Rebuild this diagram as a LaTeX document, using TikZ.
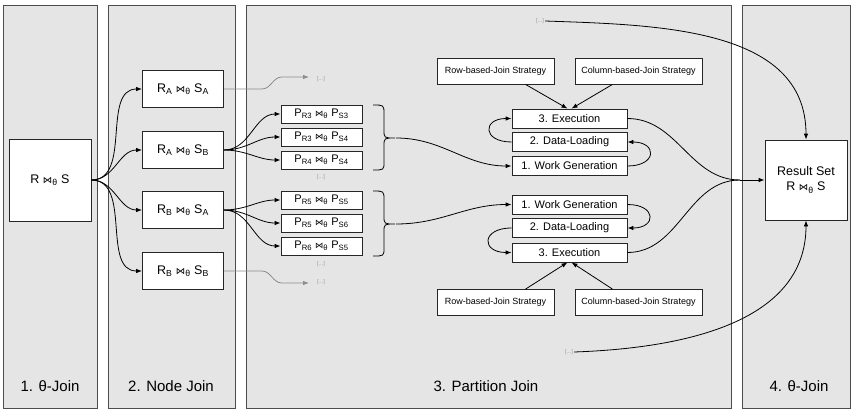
\documentclass[tikz,border=0pt]{standalone}
\usepackage{fontspec}
\setmainfont{Liberation Sans}
\newfontfamily\symfont{DejaVu Sans}
\usetikzlibrary{arrows.meta}
\newcommand\bt{\scalebox{0.75}{\symfont ⋈}}
\newcommand\sbs[1]{\textsubscript{#1}}
\begin{document}
\begin{tikzpicture}[x=1pt,y=-1pt,
  panel/.style={draw=black!70, fill=black!10, line width=0.9pt},
  box/.style={draw=black!85, fill=white, line width=0.8pt, inner sep=0pt, align=center},
  pbox/.style={box, minimum width=81pt, minimum height=18pt, font=\fontsize{11}{12}\selectfont},
  nbox/.style={box, minimum width=81pt, minimum height=37pt, font=\fontsize{12.5}{14}\selectfont},
  sbox/.style={box, minimum width=115pt, minimum height=19pt, font=\fontsize{11}{12}\selectfont},
  strat/.style={box, minimum height=26pt, font=\fontsize{9}{10}\selectfont},
  arr/.style={-{Latex[length=6pt,width=4.5pt]}, line width=0.8pt},
  garr/.style={arr, draw=black!45, color=black!45},
  dots/.style={text=black!40, font=\fontsize{5.5}{6}\selectfont, inner sep=1pt},
  plabel/.style={font=\fontsize{15}{16}\selectfont}]
\useasboundingbox (0,0) rectangle (853,410);
% panels
\draw[panel] (3,5) rectangle (97,408);
\draw[panel] (108,5) rectangle (235,408);
\draw[panel] (246,5) rectangle (731,408);
\draw[panel] (742,5) rectangle (850,408);
\node[plabel] (l1) at (50,386) {1. θ-Join};
\node[plabel] (l2) at (171,386) {2. Node Join};
\node[plabel, anchor=west] (l3) at (430,386) {3. Partition Join};
\node[plabel] (l4) at (799,386) {4. θ-Join};
% stage 1
\node[box, minimum width=82pt, minimum height=82pt, font=\fontsize{12.5}{14}\selectfont] (rs) at (50,180) {R \bt\sbs{θ} S};
% stage 2
\node[nbox] (aa) at (183,89) {R\sbs{A} \bt\sbs{θ} S\sbs{A}};
\node[nbox] (ab) at (183,150) {R\sbs{A} \bt\sbs{θ} S\sbs{B}};
\node[nbox] (ba) at (183,210) {R\sbs{B} \bt\sbs{θ} S\sbs{A}};
\node[nbox] (bb) at (183,271) {R\sbs{B} \bt\sbs{θ} S\sbs{B}};
\foreach \n in {aa,ab,ba,bb} \draw[arr] (rs.east) to[out=0,in=180] (\n.west);
% partitions
\node[pbox] (p1) at (321.5,114) {P\sbs{R3} \bt\sbs{θ} P\sbs{S3}};
\node[pbox] (p2) at (321.5,137) {P\sbs{R3} \bt\sbs{θ} P\sbs{S4}};
\node[pbox] (p3) at (321.5,160) {P\sbs{R4} \bt\sbs{θ} P\sbs{S4}};
\node[dots] (d3) at (321,177) {[...]};
\node[pbox] (p4) at (321.5,200) {P\sbs{R5} \bt\sbs{θ} P\sbs{S5}};
\node[pbox] (p5) at (321.5,223) {P\sbs{R5} \bt\sbs{θ} P\sbs{S6}};
\node[pbox] (p6) at (321.5,246) {P\sbs{R6} \bt\sbs{θ} P\sbs{S5}};
\node[dots] (d6) at (321,264) {[...]};
\foreach \n in {p1,p2,p3} \draw[arr] (ab.east) to[out=0,in=180] (\n.west);
\foreach \n in {p4,p5,p6} \draw[arr] (ba.east) to[out=0,in=180] (\n.west);
% gray arrows
\node[dots] (da) at (321,79) {[...]};
\node[dots] (db) at (321,282) {[...]};
\coordinate (ga) at (309,77);
\coordinate (gb) at (309,283);
\draw[garr] (aa.east) -- ++(38,0) to[out=0,in=180] ++(20,-12) -- (ga);
\draw[garr] (bb.east) -- ++(38,0) to[out=0,in=180] ++(20,12) -- (gb);
% braces
\draw[line width=0.8pt] (373,105) .. controls (384,105) .. (384,114) -- (384,130) .. controls (384,138) .. (395,138)
  .. controls (384,138) .. (384,146) -- (384,162) .. controls (384,170) .. (373,170);
\draw[line width=0.8pt] (373,191) .. controls (384,191) .. (384,200) -- (384,216) .. controls (384,224) .. (395,224)
  .. controls (384,224) .. (384,232) -- (384,248) .. controls (384,256) .. (373,256);
\coordinate (b1) at (396,138);
\coordinate (b2) at (396,224);
% upper pipeline
\node[strat, minimum width=117pt] (row1) at (495.5,71) {Row-based-Join Strategy};
\node[strat, minimum width=127pt] (col1) at (638.5,71) {Column-based-Join Strategy};
\node[sbox] (ex1) at (569.5,118.5) {3. Execution};
\node[sbox] (dl1) at (569.5,142) {2. Data-Loading};
\node[sbox] (wg1) at (569.5,166) {1. Work Generation};
\draw[arr] ([xshift=30pt]row1.south) -- ([xshift=-2pt]ex1.north);
\draw[arr] ([xshift=-26pt]col1.south) -- ([xshift=2pt]ex1.north);
\draw[arr] (dl1.west) to[out=180,in=180,looseness=3.2] (ex1.west);
\draw[arr] (wg1.east) to[out=0,in=0,looseness=3.2] (dl1.east);
\draw[arr] (b1) to[out=0,in=180] (wg1.west);
% lower pipeline
\node[sbox] (wg2) at (569.5,204.5) {1. Work Generation};
\node[sbox] (dl2) at (569.5,228) {2. Data-Loading};
\node[sbox] (ex2) at (569.5,252.5) {3. Execution};
\node[strat, minimum width=117pt] (row2) at (495.5,302.5) {Row-based-Join Strategy};
\node[strat, minimum width=127pt] (col2) at (638.5,302.5) {Column-based-Join Strategy};
\draw[arr] ([xshift=30pt]row2.north) -- ([xshift=-2pt]ex2.south);
\draw[arr] ([xshift=-26pt]col2.north) -- ([xshift=2pt]ex2.south);
\draw[arr] (wg2.east) to[out=0,in=0,looseness=3.2] (dl2.east);
\draw[arr] (dl2.west) to[out=180,in=180,looseness=3.2] (ex2.west);
\draw[arr] (b2) to[out=0,in=180] (wg2.west);
% result
\node[box, minimum width=82pt, minimum height=80pt, font=\fontsize{12.5}{15}\selectfont] (res) at (806,180) {Result Set\\R \bt\sbs{θ} S};
\coordinate (m) at (740,180);
\draw[line width=0.8pt] (ex1.east) to[out=0,in=180] (m);
\draw[line width=0.8pt] (ex2.east) to[out=0,in=180] (m);
\draw[arr] (m) -- (res.west);
\node[dots] (dt) at (540,21) {[...]};
\node[dots] (dbm) at (569,352) {[...]};
\draw[arr] (dt.east) to[out=-2,in=90] (res.north);
\draw[arr] (dbm.east) to[out=2,in=-90] (res.south);
\end{tikzpicture}
\end{document}
